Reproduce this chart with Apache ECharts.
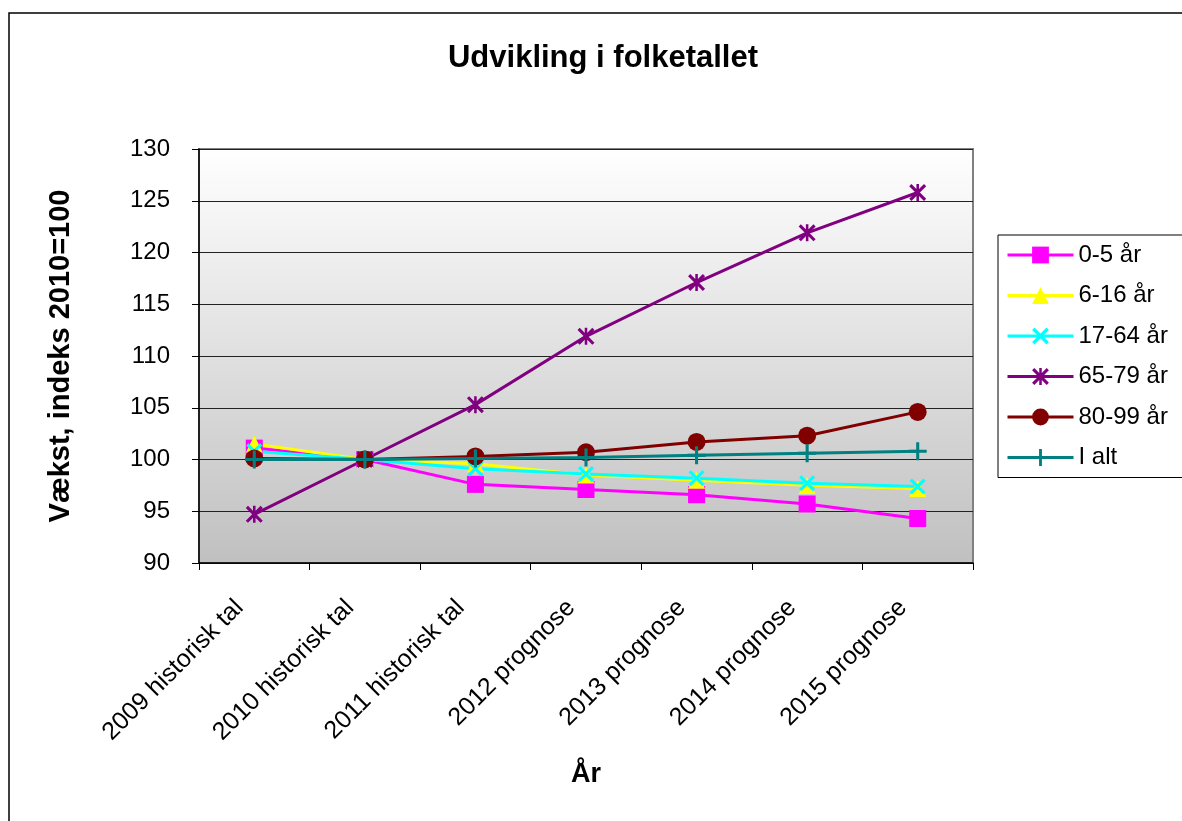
<!DOCTYPE html>
<html><head><meta charset="utf-8">
<script src="https://cdn.jsdelivr.net/npm/echarts@6/dist/echarts.min.js"></script>
<style>html,body{margin:0;padding:0;background:#fff}#c{width:1182px;height:821px}</style>
</head><body><div id="c"></div>
<script>
const categories = ['2009 historisk tal','2010 historisk tal','2011 historisk tal','2012 prognose','2013 prognose','2014 prognose','2015 prognose'];
const yTicks = [90,95,100,105,110,115,120,125,130];
const age0_5   = [101.1,100,97.6,97.1,96.6,95.7,94.3];
const age6_16  = [101.5,100,99.6,98.5,98.0,97.5,97.2];
const age17_64 = [100.8,100,99.1,98.6,98.2,97.7,97.4];
const age65_79 = [94.7,100,105.3,111.9,117.1,121.9,125.8];
const age80_99 = [100.1,100,100.3,100.7,101.7,102.3,104.6];
const iAlt     = [100.0,100,100.1,100.2,100.4,100.6,100.8];
const seriesNames = ['0-5 år','6-16 år','17-64 år','65-79 år','80-99 år','I alt'];

const X_PATH = 'path://M0,1.4L1.4,0L10,8.6L8.6,10ZM8.6,0L10,1.4L1.4,10L0,8.6Z';
const STAR_PATH = 'path://M0,1.3L1.3,0L10,8.7L8.7,10ZM8.7,0L10,1.3L1.3,10L0,8.7ZM4.25,0H5.75V10H4.25Z';
const PLUS_PATH = 'path://M4.15,0H5.85V10H4.15ZM0,4.15H10V5.85H0Z';

const FONT = 'Liberation Sans, Arial, sans-serif';
function mk(name, data, color, symbol, size){
  return {name, type:'line', data, symbol, symbolSize:size, showSymbol:true,
    lineStyle:{color, width:3}, itemStyle:{color, borderWidth:0}, z:2, animation:false};
}
const chart = echarts.init(document.getElementById('c'));
chart.setOption({
  animation:false,
  backgroundColor:'#fff',
  textStyle:{fontFamily:FONT},
  title:{text:'Udvikling i folketallet', left:598, top:38, textAlign:'center',
    textStyle:{fontFamily:FONT, fontSize:31, fontWeight:'bold', color:'#000'}},
  graphic:[{type:'rect', shape:{x:9,y:13,width:1200,height:900}, style:{fill:'none', stroke:'#000', lineWidth:1.5}, silent:true}],
  grid:{left:199, right:209, top:149, bottom:258, show:true, borderColor:'#808080', borderWidth:2,
    backgroundColor:{type:'linear', x:0, y:0, x2:0, y2:1, colorStops:[{offset:0,color:'#ffffff'},{offset:1,color:'#c0c0c0'}]}},
  legend:{orient:'vertical', left:998, top:235, padding:[8,24,8,8], itemGap:16.5, itemWidth:66, itemHeight:21,
    borderColor:'#000', borderWidth:1, backgroundColor:'#fff',
    lineStyle:{width:3},
    textStyle:{fontFamily:FONT, fontSize:24, color:'#000'}, data:seriesNames},
  xAxis:{type:'category', data:categories, boundaryGap:true,
    name:'År', nameLocation:'middle', nameGap:198,
    nameTextStyle:{fontFamily:FONT, fontSize:27, fontWeight:'bold', color:'#000'},
    axisLine:{lineStyle:{color:'#000', width:1.5}},
    axisTick:{show:true, length:7, lineStyle:{color:'#000'}},
    axisLabel:{rotate:45, margin:26, padding:[0,21,0,0], fontSize:25, color:'#000', fontFamily:FONT, interval:0},
    splitLine:{show:false}},
  yAxis:{type:'value', min:yTicks[0], max:yTicks[yTicks.length-1], interval:5,
    name:'Vækst, indeks 2010=100', nameLocation:'middle', nameGap:124,
    nameTextStyle:{fontFamily:FONT, fontSize:29, fontWeight:'bold', color:'#000'},
    axisLine:{show:true, lineStyle:{color:'#000', width:1.5}},
    axisTick:{show:true, length:7, lineStyle:{color:'#000'}},
    axisLabel:{margin:29, fontSize:24, color:'#000', fontFamily:FONT},
    splitLine:{show:true, lineStyle:{color:'#222', width:1}}},
  series:[
    mk(seriesNames[0], age0_5, '#FF00FF', 'rect', 17),
    mk(seriesNames[1], age6_16, '#FFFF00', 'triangle', 17),
    mk(seriesNames[2], age17_64, '#00FFFF', X_PATH, 16),
    mk(seriesNames[3], age65_79, '#800080', STAR_PATH, 17),
    mk(seriesNames[4], age80_99, '#800000', 'circle', 18),
    mk(seriesNames[5], iAlt, '#008080', PLUS_PATH, 18)
  ]
});
</script></body></html>
